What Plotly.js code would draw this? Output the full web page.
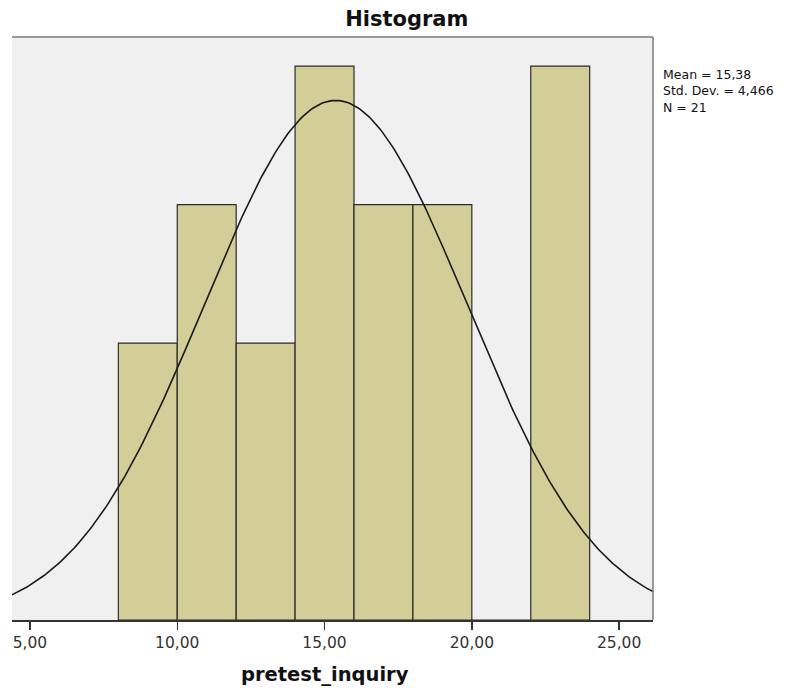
<!DOCTYPE html>
<html>
<head>
<meta charset="utf-8">
<script src="https://cdn.plot.ly/plotly-3.0.1.min.js"></script>
<style>html,body{margin:0;padding:0;background:#fff;}#chart{width:796px;height:688px;}</style>
</head>
<body>
<div id="chart"></div>
<script>
// Histogram bins (lower edges) and counts
const binStarts = [8, 10, 12, 14, 16, 18, 20, 22];
const counts = [2, 3, 2, 4, 3, 3, 0, 4];
const binWidth = 2;
// Summary statistics shown on the chart
const statMean = 15.38;
const statSD = 4.466;
const statN = 21;
const xTicks = [5, 10, 15, 20, 25];
const xRange = [4.39, 26.15];
const xTitle = 'pretest_inquiry';
const statLines = [
  'Mean = ' + statMean.toFixed(2).replace('.', ','),
  'Std. Dev. = ' + statSD.toFixed(3).replace('.', ','),
  'N = ' + statN
];

const binCenters = binStarts.map(s => s + binWidth / 2);

// Fitted normal curve (defined by the chart's mean, SD and N)
const curveX = [];
const curveY = [];
for (let i = 0; i <= 300; i++) {
  const x = xRange[0] + (xRange[1] - xRange[0]) * i / 300;
  const z = (x - statMean) / statSD;
  curveX.push(x);
  curveY.push(statN * binWidth * Math.exp(-0.5 * z * z) / (statSD * Math.sqrt(2 * Math.PI)));
}

const traces = [
  {
    type: 'bar', x: binCenters, y: counts, width: binWidth,
    marker: {color: '#d3ce98', line: {color: '#2b2b2b', width: 1.2}},
    hoverinfo: 'skip'
  },
  {
    type: 'scatter', mode: 'lines', x: curveX, y: curveY,
    line: {color: '#1a1a1a', width: 1.6}, hoverinfo: 'skip'
  }
];

const annotations = [
  {
    xref: 'paper', yref: 'paper', x: 1, y: 1, xanchor: 'left', yanchor: 'middle',
    xshift: 9, yshift: -54, align: 'left', showarrow: false, borderpad: 0,
    text: statLines.join('<br>'),
    font: {family: 'DejaVu Sans, sans-serif', size: 12.5, color: '#111'}
  },
  {
    xref: 'paper', yref: 'paper', x: 0.488, y: -0.0943, xanchor: 'center', yanchor: 'middle',
    showarrow: false, text: '<b>' + xTitle + '</b>',
    font: {family: 'DejaVu Sans, sans-serif', size: 19.5, color: '#111'}
  }
];

const layout = {
  width: 796, height: 688,
  margin: {l: 12, r: 143, t: 37, b: 68},
  paper_bgcolor: '#ffffff', plot_bgcolor: '#f0f0f0',
  showlegend: false,
  separators: ',.',
  font: {family: 'DejaVu Sans, sans-serif', color: '#222'},
  title: {text: '<b>Histogram</b>', x: 0.511, xanchor: 'center', y: 0.973, yanchor: 'middle',
          font: {family: 'DejaVu Sans, sans-serif', size: 21, color: '#111'}},
  xaxis: {
    range: xRange, tickvals: xTicks, tickformat: '.2f',
    ticks: 'outside', ticklen: 8, tickwidth: 1.5, tickcolor: '#333',
    showline: true, linecolor: '#333', linewidth: 1.5,
    showgrid: false, zeroline: false,
    tickfont: {family: 'DejaVu Sans, sans-serif', size: 15.5, color: '#333'}
  },
  yaxis: {
    range: [0, 4.21], showticklabels: false, ticks: '', showgrid: false,
    zeroline: false, showline: false
  },
  shapes: [
    {type: 'line', xref: 'paper', yref: 'paper', x0: 0, x1: 1, y0: 1, y1: 1,
     line: {color: '#7a7a7a', width: 1.5}},
    {type: 'line', xref: 'paper', yref: 'paper', x0: 1, x1: 1, y0: 0, y1: 1,
     line: {color: '#7a7a7a', width: 1.5}}
  ],
  annotations: annotations
};

Plotly.newPlot('chart', traces, layout, {displayModeBar: false, staticPlot: true});
</script>
</body>
</html>
